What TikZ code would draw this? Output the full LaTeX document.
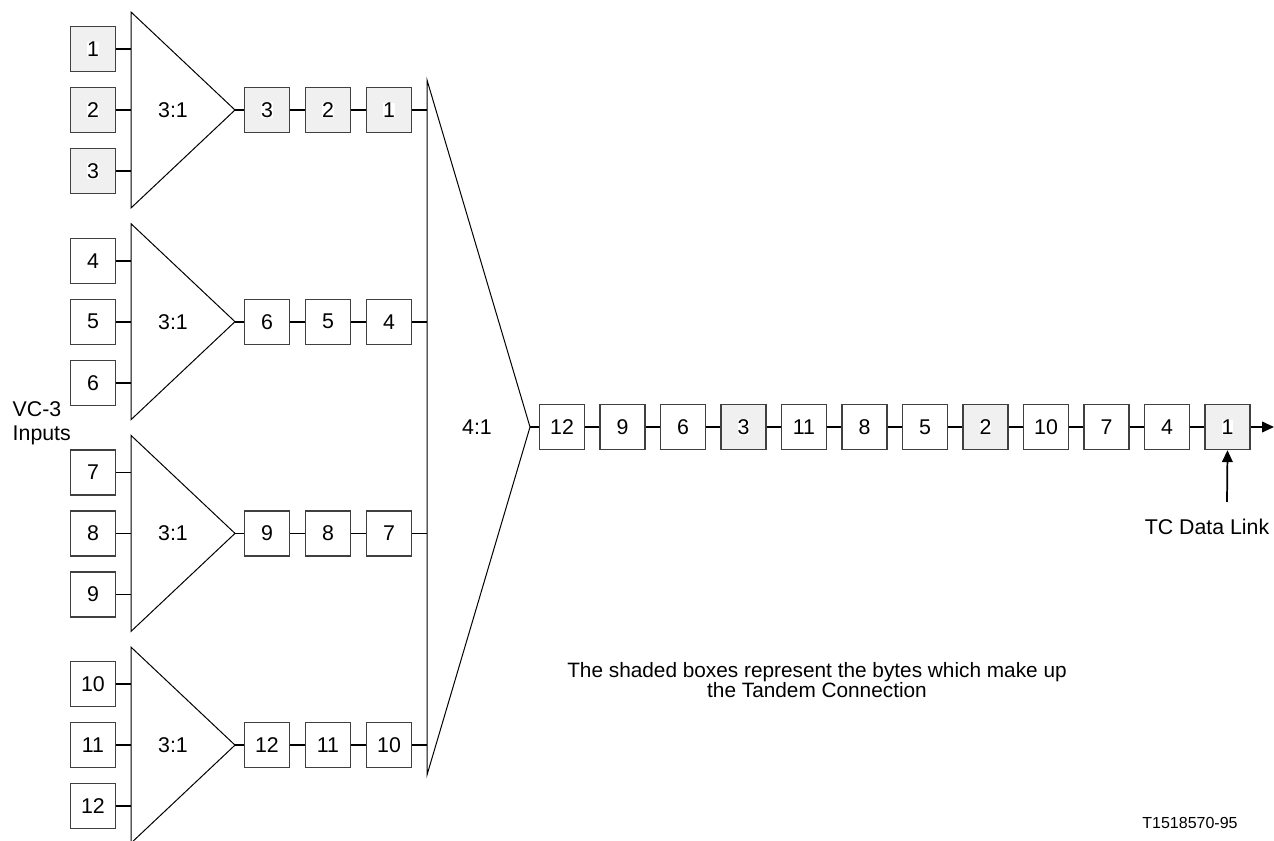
\documentclass[tikz,border=0pt]{standalone}
\usepackage{fontspec}
\setmainfont{Liberation Sans}
\usetikzlibrary{arrows.meta, positioning, calc}

\begin{document}
\begin{tikzpicture}[
    x=0.75pt, y=-0.75pt,
    every node/.style={font=\fontsize{16}{18}\selectfont},
    byte/.style={draw=boxcolor, line width=1pt, minimum size=33.75pt, inner sep=0pt},
    tcbyte/.style={byte, fill=shade},
    wire/.style={line width=1.3pt},
    muxline/.style={line width=0.75pt, line join=miter},
]

\definecolor{shade}{HTML}{F0F0F0}     % bytes of the tandem connection
\definecolor{boxcolor}{HTML}{404040}

\def\gap{211.7}   % distance between two 3:1 groups
\def\pitch{61}    % distance between two input boxes
\def\step{60.5}   % distance between two boxes of the output stream
\def\tcnum#1{{\setlength{\fboxsep}{0pt}\colorbox{white}{#1}}}

\useasboundingbox (0,0) rectangle (1274,841);

% ================================================================
%   four 3:1 groups, centres at y = 110 + g*\gap
%   input boxes at x = 93, triangle from x = 131 to 235
%   byte chain at x = 267, 328, 389, joins the 4:1 at x = 427
% ================================================================

% ---------------------------------------------------------------- 3:1 groups
\foreach \g in {0,...,3} {
    \pgfmathsetmacro{\yc}{110+\g*\gap}
    \draw[muxline] (131,\yc-98) -- (235,\yc) coordinate (apex\g)
        -- (131,\yc+98) -- cycle;
    \node (ratio\g) at (173,\yc) {3:1};
    % inputs
    \foreach \i in {1,2,3} {
        \pgfmathtruncatemacro{\n}{3*\g+\i}
        \pgfmathsetmacro{\yi}{\yc+(\i-2)*\pitch}
        \ifnum\g=0
            \node[tcbyte] (in\n) at (93,\yi) {\tcnum{\n}};
        \else
            \node[byte] (in\n) at (93,\yi) {\n};
        \fi
        \coordinate (tap\n) at (131,\yi);
        \draw[wire] (in\n.east) -- (tap\n);
    }
    % multiplexed bytes
    \foreach \j/\x in {3/267, 2/328, 1/389} {
        \pgfmathtruncatemacro{\n}{3*\g+\j}
        \ifnum\g=0
            \node[tcbyte] (ch\n) at (\x,\yc) {\tcnum{\n}};
        \else
            \node[byte] (ch\n) at (\x,\yc) {\n};
        \fi
    }
    \pgfmathtruncatemacro{\na}{3*\g+3}
    \pgfmathtruncatemacro{\nb}{3*\g+2}
    \pgfmathtruncatemacro{\nc}{3*\g+1}
    \coordinate (join\g) at (427,\yc);
    \draw[wire] (apex\g) -- (ch\na);
    \draw[wire] (ch\na) -- (ch\nb);
    \draw[wire] (ch\nb) -- (ch\nc);
    \draw[wire] (ch\nc) -- (join\g);
}

\node[align=left, anchor=west] (vclabel) at (8,423) {VC-3\\Inputs};

% ---------------------------------------------------------------- 4:1
\coordinate (bigtop) at (427,80);
\coordinate (bigbot) at (427,775);
\coordinate (bigapex) at (530,427);
\draw[muxline] (bigtop) -- (bigbot) -- (bigapex) -- cycle;
\node (bigratio) at (477,427) {4:1};

% ---------------------------------------------------------------- output stream
\foreach \n/\k in {12/0, 9/1, 6/2, 3/3, 11/4, 8/5, 5/6, 2/7, 10/8, 7/9, 4/10, 1/11} {
    \pgfmathtruncatemacro{\s}{mod(\k,4)}
    \ifnum\s=3
        \node[tcbyte] (out\k) at (562+\k*\step,427) {\tcnum{\n}};
    \else
        \node[byte] (out\k) at (562+\k*\step,427) {\n};
    \fi
}
\draw[wire] (bigapex) -- (out0);
\foreach \k in {1,...,11} {
    \pgfmathtruncatemacro{\p}{\k-1}
    \draw[wire] (out\p) -- (out\k);
}
\coordinate (streamend) at (1274,427);
\draw[wire, -{Triangle[length=9pt, width=8pt]}] (out11) -- (streamend);

% ---------------------------------------------------------------- TC data link
\coordinate (tcfoot) at (1227,502);
\draw[wire, -{Triangle[length=9pt, width=8pt]}] (tcfoot) -- (out11.south);
\node (tclabel) at (1207,527) {TC Data Link};

% ---------------------------------------------------------------- notes
\node[align=center, font=\fontsize{15.6}{15}\selectfont] (note) at (817,680)
    {The shaded boxes represent the bytes which make up\\the Tandem Connection};
\node[font=\fontsize{12}{14}\selectfont] (figno) at (1190,823) {T1518570-95};

\end{tikzpicture}
\end{document}
